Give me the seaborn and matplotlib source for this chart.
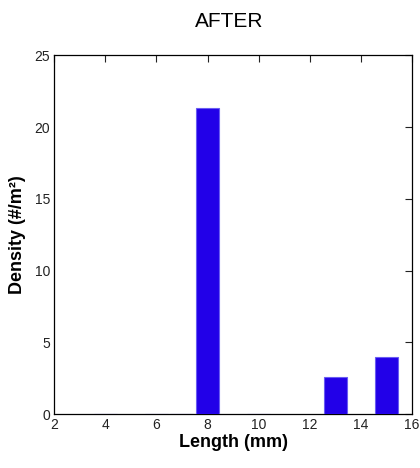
import matplotlib
matplotlib.use('Agg')
import matplotlib.pyplot as plt
import seaborn as sns
import pandas as pd

# data
lengths = [4, 6, 7, 8, 10, 13, 15]
densities = [0.0, 0.0, 0.0, 21.33, 0.0, 2.56, 3.97]
x_ticks = [2, 4, 6, 8, 10, 12, 14, 16]
y_ticks = [0, 5, 10, 15, 20, 25]

sns.set_style('white')
plt.rcParams['font.family'] = ['Liberation Sans', 'DejaVu Sans']
plt.rcParams['text.color'] = 'black'
plt.rcParams['axes.labelcolor'] = 'black'

df = pd.DataFrame({'Length': lengths, 'Density': densities})

fig = plt.figure(figsize=(4.2, 4.68), dpi=100)
ax = fig.add_axes([0.129, 0.115, 0.852, 0.767])
sns.barplot(data=df, x='Length', y='Density', native_scale=True, width=0.9,
            color='#2200e8', saturation=1, edgecolor='#6a5cf2', linewidth=0.8, ax=ax)
# let the empty bins show as thin lines over the bottom axis
for p in ax.patches:
    p.set_zorder(3)

ax.set_xlim(2, 16)
ax.set_ylim(0, 25)
ax.set_xticks(x_ticks)
ax.set_yticks(y_ticks)
ax.tick_params(direction='in', length=5, width=0.8, top=True, right=True,
               labelsize=10, colors='#222222', pad=3)
for s in ax.spines.values():
    s.set_visible(True)
    s.set_color('black')
    s.set_linewidth(0.9)

ax.set_xlabel('Length (mm)', fontsize=13, fontweight='bold', labelpad=1)
ax.set_ylabel('Density (#/m²)', fontsize=13, fontweight='bold', labelpad=6)
fig.text(0.545, 0.955, 'AFTER', ha='center', va='center', fontsize=15)

fig.savefig('out.png', dpi=100)
